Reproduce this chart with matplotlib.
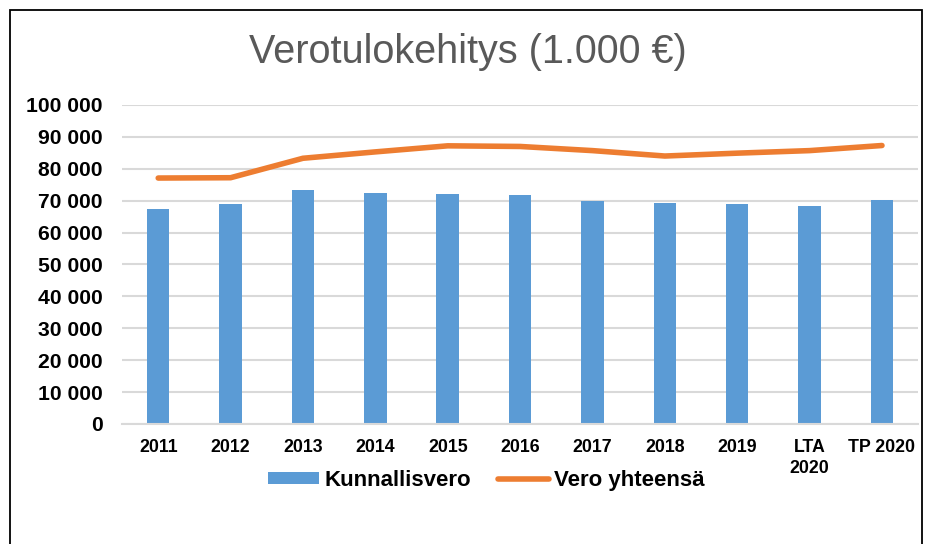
import numpy as np
import matplotlib.pyplot as plt
from matplotlib.patches import Rectangle

plt.rcParams['font.family'] = ['Liberation Sans', 'DejaVu Sans']

## Data (1.000 €):
years = ['2011', '2012', '2013', '2014', '2015', '2016', '2017', '2018', '2019', 'LTA\n2020', 'TP 2020']
kunnallisvero = [67300, 69100, 73300, 72500, 72000, 71800, 69900, 69400, 69100, 68200, 70200]
vero_yht = [77100, 77200, 83300, 85300, 87200, 87000, 85700, 84000, 84900, 85700, 87300]
yticks = [0, 10000, 20000, 30000, 40000, 50000, 60000, 70000, 80000, 90000, 100000]
ytick_labels = ['0', '10 000', '20 000', '30 000', '40 000', '50 000', '60 000',
                '70 000', '80 000', '90 000', '100 000']

blue = '#5B9BD5'
orange = '#ED7D31'
grid_c = '#D9D9D9'

fig = plt.figure(figsize=(9.35, 5.44), dpi=100)
ax = fig.add_axes([0.1305, 0.2206, 0.8515, 0.5864])

x = np.arange(len(years))
bars = ax.bar(x, kunnallisvero, width=0.31, color=blue, label='Kunnallisvero', zorder=2)
line, = ax.plot(x, vero_yht, color=orange, lw=4, solid_capstyle='round',
                label='Vero yhteensä', zorder=3)

ax.set_xlim(-0.5, len(years) - 0.5)
ax.set_ylim(0, 100000)
ax.set_yticks(yticks)
ax.set_yticklabels(ytick_labels, fontsize=15.2, fontweight='bold')
ax.set_xticks(x)
ax.set_xticklabels(years, fontsize=12.8, fontweight='bold', linespacing=1.3)
ax.tick_params(axis='y', length=0, pad=14)
ax.tick_params(axis='x', length=0, pad=11)

ax.grid(axis='y', color=grid_c, lw=1.5, zorder=0)
for s in ['top', 'right', 'left']:
    ax.spines[s].set_visible(False)
ax.spines['bottom'].set_color(grid_c)
ax.spines['bottom'].set_linewidth(1.5)

fig.text(0.5, 0.905, 'Verotulokehitys (1.000 €)', fontsize=28.5, color='#595959',
         ha='center', va='center')

fig.legend(handles=[bars, line], loc='center', bbox_to_anchor=(0.52, 0.117),
           ncol=2, frameon=False, prop={'size': 16, 'weight': 'bold'},
           handlelength=2.3, handleheight=0.4, handletextpad=0.25, columnspacing=1.2)

# border around the chart (bottom edge is cut off in the original)
fig.patches.append(Rectangle((9.5 / 935, -0.05), (922 - 9.5) / 935, 1.05 - 9.5 / 544,
                             transform=fig.transFigure, fill=False, ec='black', lw=1.3))

fig.savefig('out.png', dpi=100)
